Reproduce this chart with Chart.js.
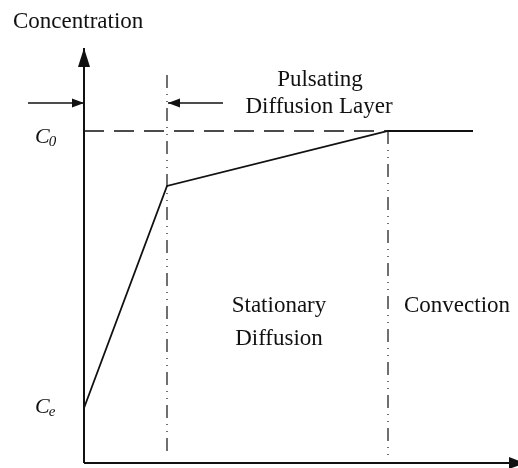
<!DOCTYPE html>
<html>
<head>
<meta charset="utf-8">
<script src="https://cdn.jsdelivr.net/npm/chart.js@4/dist/chart.umd.min.js"></script>
<style>
html,body{margin:0;padding:0;background:#fff;}
#wrap{width:518px;height:468px;}
</style>
</head>
<body>
<div id="wrap"><canvas id="c" width="518" height="468"></canvas></div>
<script>
// Distance (x) and concentration (y) in arbitrary diagram units
const profileX = [0, 83, 304, 389];
const profileY = [55, 277, 332, 332];
const c0Level = 332;
const ceLevel = 55;
const boundaryX = [83, 304];
const boundaryTop = [388, 332];
const boundaryBottom = 6;
const axisXEnd = 441;
const axisYEnd = 415;
const layerArrowY = 360;
const leftArrowX = [-56, 0];
const rightArrowX = [139, 84];

const textLabels = [
  {text: 'Concentration', x: -71, y: 435, align: 'left'},
  {text: 'Pulsating', x: 236, y: 377, align: 'center'},
  {text: 'Diffusion Layer', x: 235, y: 350, align: 'center'},
  {text: 'Stationary', x: 195, y: 151, align: 'center'},
  {text: 'Diffusion', x: 195, y: 118, align: 'center'},
  {text: 'Convection', x: 373, y: 151, align: 'center'}
];
const levelLabels = [
  {main: 'C', sub: '0', x: -49, y: c0Level - 12},
  {main: 'C', sub: 'e', x: -49, y: ceLevel - 5}
];

const black = '#111';
const pts = (xs, ys) => xs.map((x, i) => ({x: x, y: ys[i]}));

const datasets = [
  {data: pts([0, 0], [0, axisYEnd]), borderColor: black, borderWidth: 2, arrow: {len: 19, half: 6}},
  {data: pts([0, axisXEnd], [0, 0]), borderColor: black, borderWidth: 2, arrow: {len: 16, half: 6}},
  {data: pts([0, profileX[2]], [c0Level, c0Level]), borderColor: black, borderWidth: 1.5, borderDash: [20, 10]},
  {data: pts(profileX, profileY), borderColor: black, borderWidth: 1.8},
  {data: pts([boundaryX[0], boundaryX[0]], [boundaryTop[0], boundaryBottom]), borderColor: black, borderWidth: 1.2, borderDash: [13, 6, 1, 6, 1, 6]},
  {data: pts([boundaryX[1], boundaryX[1]], [boundaryTop[1], boundaryBottom]), borderColor: black, borderWidth: 1.2, borderDash: [13, 6, 1, 6, 1, 6]},
  {data: pts(leftArrowX, [layerArrowY, layerArrowY]), borderColor: black, borderWidth: 1.5, arrow: {len: 12, half: 4.5}},
  {data: pts(rightArrowX, [layerArrowY, layerArrowY]), borderColor: black, borderWidth: 1.5, arrow: {len: 12, half: 4.5}}
].map(d => Object.assign({showLine: true, pointRadius: 0, fill: false, tension: 0}, d));

const decor = {
  id: 'decor',
  afterDatasetsDraw(chart) {
    const ctx = chart.ctx;
    const xs = chart.scales.x, ys = chart.scales.y;
    ctx.save();
    chart.data.datasets.forEach(ds => {
      if (!ds.arrow) return;
      const n = ds.data.length;
      const a = ds.data[n - 2], b = ds.data[n - 1];
      const ax = xs.getPixelForValue(a.x), ay = ys.getPixelForValue(a.y);
      const bx = xs.getPixelForValue(b.x), by = ys.getPixelForValue(b.y);
      const ang = Math.atan2(by - ay, bx - ax);
      const L = ds.arrow.len, H = ds.arrow.half;
      ctx.fillStyle = black;
      ctx.beginPath();
      ctx.moveTo(bx, by);
      ctx.lineTo(bx - L * Math.cos(ang) - H * Math.sin(ang), by - L * Math.sin(ang) + H * Math.cos(ang));
      ctx.lineTo(bx - L * Math.cos(ang) + H * Math.sin(ang), by - L * Math.sin(ang) - H * Math.cos(ang));
      ctx.closePath();
      ctx.fill();
    });
    ctx.fillStyle = black;
    ctx.textBaseline = 'alphabetic';
    ctx.font = '23px "Liberation Serif", "Times New Roman", serif';
    textLabels.forEach(t => {
      ctx.textAlign = t.align;
      ctx.fillText(t.text, xs.getPixelForValue(t.x), ys.getPixelForValue(t.y));
    });
    levelLabels.forEach(l => {
      const px = xs.getPixelForValue(l.x), py = ys.getPixelForValue(l.y);
      ctx.textAlign = 'left';
      ctx.font = 'italic 22px "Liberation Serif", "Times New Roman", serif';
      ctx.fillText(l.main, px, py);
      const w = ctx.measureText(l.main).width;
      ctx.font = 'italic 15px "Liberation Serif", "Times New Roman", serif';
      ctx.fillText(l.sub, px + w - 1, py + 3);
    });
    ctx.restore();
  }
};

new Chart(document.getElementById('c'), {
  type: 'scatter',
  data: {datasets: datasets},
  options: {
    responsive: false,
    animation: false,
    layout: {padding: 0},
    scales: {
      x: {type: 'linear', min: -84, max: 434, display: false},
      y: {type: 'linear', min: -5, max: 463, display: false}
    },
    plugins: {legend: {display: false}, tooltip: {enabled: false}}
  },
  plugins: [decor]
});
</script>
</body>
</html>
